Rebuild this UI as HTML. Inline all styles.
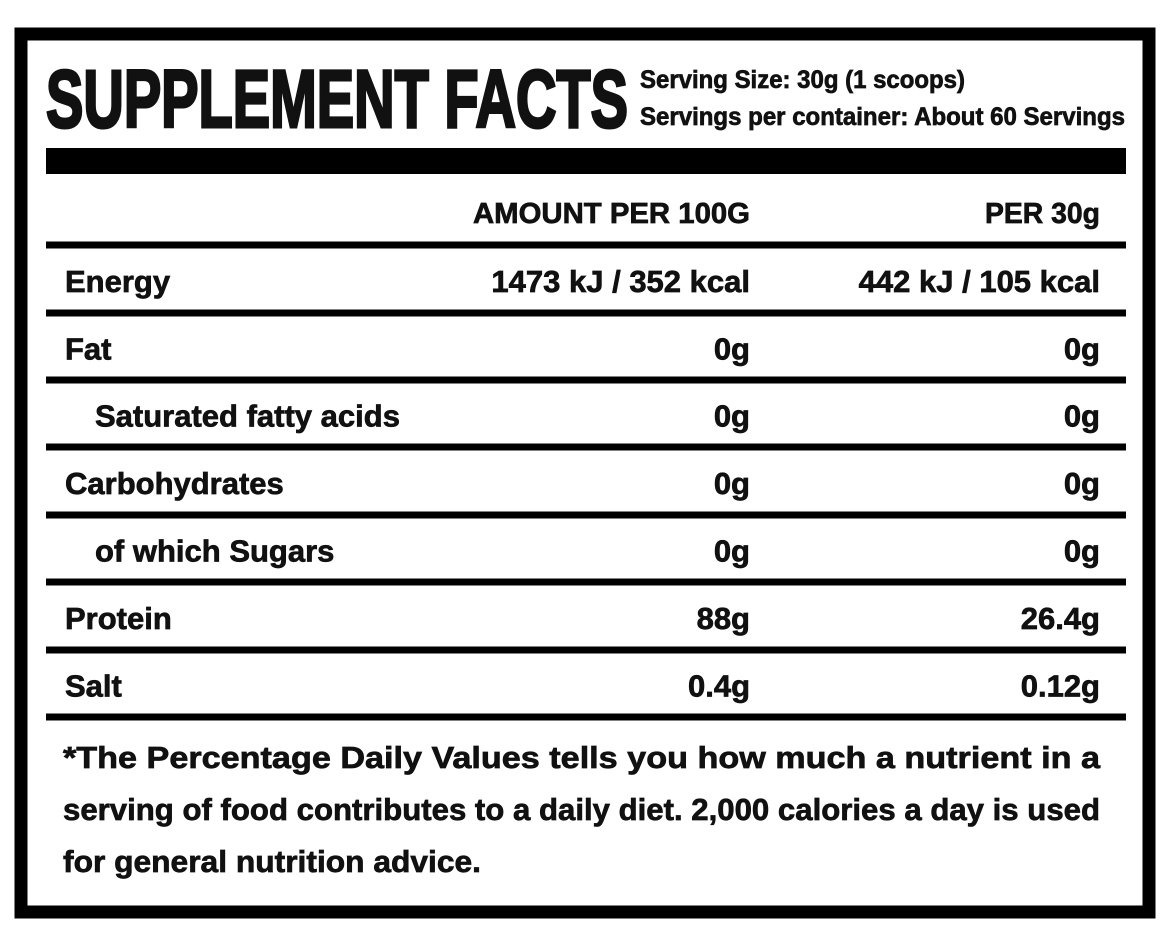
<!DOCTYPE html>
<html><head><meta charset="utf-8"><style>
html,body{margin:0;padding:0;background:#fff;}
svg text{font-family:"Liberation Sans",sans-serif;font-weight:bold;fill:#111;stroke:#111;stroke-width:0.7;}
</style></head><body>
<svg width="1164" height="924" viewBox="0 0 1164 924">
<rect x="21" y="34" width="1128" height="878" fill="none" stroke="#000" stroke-width="13"/>
<text x="46" y="127" font-size="82" textLength="582" lengthAdjust="spacingAndGlyphs" style="stroke-width:3">SUPPLEMENT FACTS</text>
<text x="640" y="88" font-size="25" textLength="325" lengthAdjust="spacingAndGlyphs">Serving Size: 30g (1 scoops)</text>
<text x="640" y="125" font-size="25" textLength="485" lengthAdjust="spacingAndGlyphs">Servings per container: About 60 Servings</text>
<rect x="46" y="148" width="1080" height="26" fill="#000"/>
<text x="750" y="223" font-size="29" text-anchor="end" textLength="277" lengthAdjust="spacingAndGlyphs">AMOUNT PER 100G</text>
<text x="1100" y="223" font-size="29" text-anchor="end" textLength="115" lengthAdjust="spacingAndGlyphs">PER 30g</text>
<g id="rows"></g>
<text x="63" y="768" font-size="31" textLength="1037" lengthAdjust="spacingAndGlyphs">*The Percentage Daily Values tells you how much a nutrient in a</text>
<text x="63" y="820" font-size="31" textLength="1037" lengthAdjust="spacingAndGlyphs">serving of food contributes to a daily diet. 2,000 calories a day is used</text>
<text x="63" y="872" font-size="31" textLength="418" lengthAdjust="spacingAndGlyphs">for general nutrition advice.</text>
</svg>
<script>
const names=["Energy","Fat","Saturated fatty acids","Carbohydrates","of which Sugars","Protein","Salt"];
const per100=["1473 kJ / 352 kcal","0g","0g","0g","0g","88g","0.4g"];
const per30=["442 kJ / 105 kcal","0g","0g","0g","0g","26.4g","0.12g"];
const indent=[false,false,true,false,true,false,false];
const NS="http://www.w3.org/2000/svg";
const g=document.getElementById('rows');
const lineY=[245,313,380,447,515,582,650,717];
function mk(tag,attrs){const e=document.createElementNS(NS,tag);for(const k in attrs)e.setAttribute(k,attrs[k]);g.appendChild(e);return e;}
lineY.forEach((y,i)=>{
 const l=mk('rect',{x:46,y:y-3.5,width:1080,height:7,fill:'#000'});
 
 
});
names.forEach((n,i)=>{
 const base=(lineY[i]+lineY[i+1])/2+13;
 const t=mk('text',{x:indent[i]?95:65,y:base,'font-size':31});
 t.textContent=n;
 
 
 const a=mk('text',{x:750,y:base,'font-size':31,'text-anchor':'end'});
 a.textContent=per100[i];
 
 
 const b=mk('text',{x:1100,y:base,'font-size':31,'text-anchor':'end'});
 b.textContent=per30[i];
 
 
});
</script>
</body></html>
